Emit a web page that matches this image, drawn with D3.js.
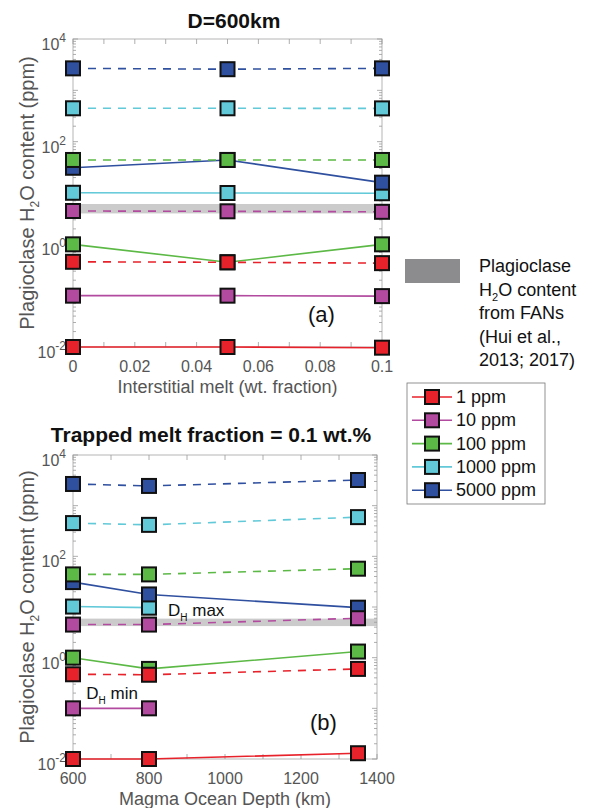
<!DOCTYPE html>
<html lang="en">
<head>
<meta charset="utf-8">
<title>Plagioclase H2O content</title>
<script src="https://cdn.jsdelivr.net/npm/d3@7"></script>
<style>
  body { margin: 0; background: #fff; }
  text { font-family: "Liberation Sans", Arial, sans-serif; }
</style>
</head>
<body>
<script>
// data
var seriesNames = ["1 ppm", "10 ppm", "100 ppm", "1000 ppm", "5000 ppm"];
var seriesColors = ["#e8222b", "#b24b9f", "#5cb946", "#62c9d9", "#2f4f9f"];

// panel (a): interstitial melt fraction
var meltX = [0, 0.05, 0.1];
var meltMin = [            // solid lines (D_H min)
  [0.0100, 0.0100, 0.0097],
  [0.100, 0.100, 0.098],
  [1.00, 0.447, 1.00],
  [10.1, 10.0, 9.9],
  [31, 44, 15.9]
];
var meltMax = [            // dashed lines (D_H max)
  [0.457, 0.447, 0.43],
  [4.46, 4.4, 4.3],
  [44, 44, 44],
  [447, 447, 445],
  [2680, 2580, 2680]
];
var meltBand = [4.0, 6.1];

// panel (b): magma ocean depth
var depthX = [600, 800, 1350];
var depthMin = [
  [0.0100, 0.0100, 0.013],
  [0.100, 0.100],
  [1.00, 0.60, 1.32],
  [10.2, 9.7],
  [31, 17.7, 9.7]
];
var depthMax = [
  [0.47, 0.46, 0.60],
  [4.5, 4.5, 6.0],
  [44, 44, 57],
  [453, 418, 594],
  [2680, 2450, 3210]
];
var depthBand = [4.2, 5.9];

var meltTicks = [0, 0.02, 0.04, 0.06, 0.08, 0.1];
var depthTicks = [600, 800, 1000, 1200, 1400];
var yTickPowers = [-2, 0, 2, 4];
var fanLines = ["Plagioclase", "H2O content", "from FANs", "(Hui et al.,", "2013; 2017)"];

var width = 594, height = 808;
var svg = d3.select("body").append("svg")
    .attr("width", width)
    .attr("height", height);

function drawPanel(opt) {
  var x = d3.scaleLinear().domain(opt.xDomain).range([opt.left, opt.right]);
  var y = d3.scaleLog().domain([1e-2, 1e4]).range([opt.bottom, opt.top]);
  var g = svg.append("g");

  // gray FAN band
  g.append("rect")
      .attr("x", opt.left)
      .attr("width", opt.right - opt.left)
      .attr("y", y(opt.band[1]))
      .attr("height", y(opt.band[0]) - y(opt.band[1]))
      .attr("fill", "#cbcbcb");

  // box
  g.append("rect")
      .attr("x", opt.left).attr("y", opt.top)
      .attr("width", opt.right - opt.left).attr("height", opt.bottom - opt.top)
      .attr("fill", "none").attr("stroke", "#b5b5b5").attr("stroke-width", 1);

  // y ticks: decades + minor, inward on both sides
  var yt = [];
  for (var p = -2; p < 4; p++) {
    for (var m = 1; m < 10; m++) yt.push({v: m * Math.pow(10, p), major: m === 1});
  }
  yt.push({v: 1e4, major: true});
  yt.forEach(function(t) {
    var len = t.major ? 5 : 3;
    [[opt.left, len], [opt.right, -len]].forEach(function(s) {
      g.append("line")
          .attr("x1", s[0]).attr("x2", s[0] + s[1])
          .attr("y1", y(t.v)).attr("y2", y(t.v))
          .attr("stroke", "#9a9a9a").attr("stroke-width", 0.8);
    });
  });

  // x ticks
  opt.xMinor.forEach(function(v) {
    [[opt.bottom, -5], [opt.top, 5]].forEach(function(s) {
      g.append("line")
          .attr("x1", x(v)).attr("x2", x(v))
          .attr("y1", s[0]).attr("y2", s[0] + s[1])
          .attr("stroke", "#9a9a9a").attr("stroke-width", 0.8);
    });
  });

  // y tick labels 10^n
  yTickPowers.forEach(function(p) {
    var t = g.append("text")
        .attr("x", opt.left - 7)
        .attr("y", y(Math.pow(10, p)) + 11)
        .attr("text-anchor", "end")
        .attr("fill", "#555")
        .style("font-size", "16px");
    t.append("tspan").text("10");
    t.append("tspan").attr("dy", -8).style("font-size", "12px").text(p);
  });

  // x tick labels
  g.selectAll(".xl")
    .data(opt.xTicks)
    .enter().append("text")
      .attr("x", function(d) { return x(d); })
      .attr("y", opt.bottom + 25)
      .attr("text-anchor", "middle")
      .attr("fill", "#555")
      .style("font-size", "16px")
      .text(opt.xFormat);

  // axis labels
  g.append("text")
      .attr("x", (opt.left + opt.right) / 2)
      .attr("y", opt.bottom + 46)
      .attr("text-anchor", "middle")
      .attr("fill", "#555")
      .style("font-size", "18px")
      .text(opt.xLabel);

  var yl = g.append("text")
      .attr("transform", "translate(34," + ((opt.top + opt.bottom) / 2) + ") rotate(-90)")
      .attr("text-anchor", "middle")
      .attr("fill", "#555")
      .style("font-size", "20px");
  yl.append("tspan").text("Plagioclase H");
  yl.append("tspan").attr("dy", 5).style("font-size", "12px").text("2");
  yl.append("tspan").attr("dy", -5).text("O content (ppm)");

  // title
  g.append("text")
      .attr("x", opt.titleX)
      .attr("y", opt.titleY)
      .attr("text-anchor", "middle")
      .attr("fill", "#111")
      .style("font-size", "21px")
      .style("font-weight", "bold")
      .text(opt.title);

  var line = d3.line()
      .x(function(d) { return x(d[0]); })
      .y(function(d) { return y(d[1]); });

  function drawSet(sets, dash) {
    sets.forEach(function(vals, i) {
      var pts = vals.map(function(v, j) { return [opt.xs[j], v]; });
      g.append("path")
          .attr("d", line(pts))
          .attr("fill", "none")
          .attr("stroke", seriesColors[i])
          .attr("stroke-width", 1.6)
          .attr("stroke-dasharray", dash);
      g.selectAll(null)
        .data(pts)
        .enter().append("rect")
          .attr("x", function(d) { return x(d[0]) - 7; })
          .attr("y", function(d) { return y(d[1]) - 7; })
          .attr("width", 14).attr("height", 14)
          .attr("fill", seriesColors[i])
          .attr("stroke", "#111")
          .attr("stroke-width", 2);
    });
  }
  drawSet(opt.minSets, null);
  drawSet(opt.maxSets, "8,7");

  // panel letter
  g.append("text")
      .attr("x", opt.letterX)
      .attr("y", opt.letterY)
      .attr("fill", "#111")
      .style("font-size", "22px")
      .text(opt.letter);

  return {x: x, y: y, g: g};
}

drawPanel({
  left: 73, right: 382, top: 39, bottom: 347,
  xDomain: [0, 0.1], xs: meltX,
  xTicks: meltTicks, xMinor: d3.range(0, 0.1001, 0.01),
  xFormat: function(d) { return d === 0 ? "0" : d3.format(".2~f")(d); },
  xLabel: "Interstitial melt (wt. fraction)",
  title: "D=600km", titleX: 234, titleY: 28,
  minSets: meltMin, maxSets: meltMax, band: meltBand,
  letter: "(a)", letterX: 308, letterY: 322
});

var b = drawPanel({
  left: 73, right: 377, top: 455, bottom: 759,
  xDomain: [600, 1400], xs: depthX,
  xTicks: depthTicks, xMinor: d3.range(600, 1401, 100),
  xFormat: function(d) { return d; },
  xLabel: "Magma Ocean Depth (km)",
  title: "Trapped melt fraction = 0.1 wt.%", titleX: 211, titleY: 442,
  minSets: depthMin, maxSets: depthMax, band: depthBand,
  letter: "(b)", letterX: 310, letterY: 730
});

// D_H annotations in panel (b)
function dLabel(px, py, word) {
  var t = b.g.append("text")
      .attr("x", px).attr("y", py)
      .attr("fill", "#111")
      .style("font-size", "17px");
  t.append("tspan").text("D");
  t.append("tspan").attr("dy", 5).style("font-size", "10px").text("H");
  t.append("tspan").attr("dy", -5).text(" " + word);
}
dLabel(b.x(850), 616, "max");
dLabel(b.x(635), 699, "min");

// FAN band legend
svg.append("rect")
    .attr("x", 405).attr("y", 259)
    .attr("width", 55).attr("height", 24)
    .attr("fill", "#8c8c8f");

fanLines.forEach(function(s, i) {
  var ln = svg.append("text").attr("x", 479).attr("y", 272 + i * 23.5)
      .attr("fill", "#111").style("font-size", "18px");
  if (s === "H2O content") {
    ln.append("tspan").text("H");
    ln.append("tspan").attr("dy", 5).style("font-size", "11px").text("2");
    ln.append("tspan").attr("dy", -5).text("O content");
  } else {
    ln.text(s);
  }
});

// series legend
var leg = svg.append("g");
leg.append("rect")
    .attr("x", 407).attr("y", 383)
    .attr("width", 138).attr("height", 121)
    .attr("fill", "#fff")
    .attr("stroke", "#777").attr("stroke-width", 0.8);

seriesNames.forEach(function(name, i) {
  var cy = 397 + i * 23.3;
  leg.append("line")
      .attr("x1", 412).attr("x2", 452)
      .attr("y1", cy).attr("y2", cy)
      .attr("stroke", seriesColors[i]).attr("stroke-width", 1.6);
  leg.append("rect")
      .attr("x", 425).attr("y", cy - 7)
      .attr("width", 14).attr("height", 14)
      .attr("fill", seriesColors[i])
      .attr("stroke", "#111").attr("stroke-width", 2);
  leg.append("text")
      .attr("x", 456).attr("y", cy + 6)
      .attr("fill", "#111")
      .style("font-size", "18px")
      .text(name);
});
</script>
</body>
</html>
